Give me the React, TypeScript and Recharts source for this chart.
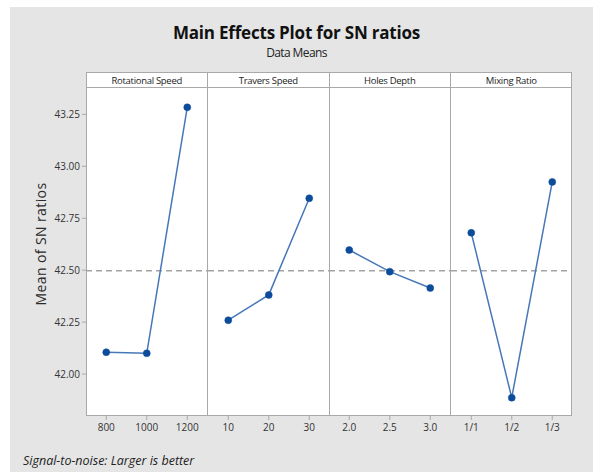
import React from 'react';
import { LineChart, Line, XAxis, YAxis, ReferenceLine } from 'recharts';

// Factor levels and mean S/N ratio (dB) at each level
const rotationalSpeedLevels = ['800', '1000', '1200'];
const rotationalSpeedSN = [42.105, 42.1, 43.284];

const traversSpeedLevels = ['10', '20', '30'];
const traversSpeedSN = [42.259, 42.381, 42.846];

const holesDepthLevels = ['2.0', '2.5', '3.0'];
const holesDepthSN = [42.597, 42.493, 42.414];

const mixingRatioLevels = ['1/1', '1/2', '1/3'];
const mixingRatioSN = [42.68, 41.886, 42.925];

const factorNames = ['Rotational Speed', 'Travers Speed', 'Holes Depth', 'Mixing Ratio'];
const yTicks = [42.0, 42.25, 42.5, 42.75, 43.0, 43.25];
const grandMean = 42.497;

const factors = [
  { name: factorNames[0], levels: rotationalSpeedLevels, values: rotationalSpeedSN },
  { name: factorNames[1], levels: traversSpeedLevels, values: traversSpeedSN },
  { name: factorNames[2], levels: holesDepthLevels, values: holesDepthSN },
  { name: factorNames[3], levels: mixingRatioLevels, values: mixingRatioSN },
];

const FONT = '"Open Sans", "Noto Sans", sans-serif';
const BG = '#e5e5e5';
const FRAME = '#a9a9a9';
const LINE = '#4677b8';
const DOT = '#0d4c9b';

const PLOT_LEFT = 86;
const PLOT_TOP = 88;
const STRIP_TOP = 72;
const PLOT_BOTTOM = 416;
const PANEL_W = 121.5;
const Y_AXIS_W = 50;
const X_AXIS_H = 30;
const Y_DOMAIN: [number, number] = [41.798, 43.377];

function Panel({ index }: { index: number }) {
  const f = factors[index];
  const data = f.levels.map((lv, i) => ({ level: lv, sn: f.values[i] }));
  const first = index === 0;
  const width = PANEL_W + (first ? Y_AXIS_W : 0);
  const left = PLOT_LEFT + index * PANEL_W - (first ? Y_AXIS_W : 0);
  const height = PLOT_BOTTOM - PLOT_TOP + X_AXIS_H;
  const pad = PANEL_W / 6;
  return (
    <div style={{ position: 'absolute', left, top: PLOT_TOP }}>
      <LineChart width={width} height={height} data={data} margin={{ top: 0, right: 0, bottom: 0, left: 0 }}>
        <XAxis
          dataKey="level"
          type="category"
          padding={{ left: pad, right: pad }}
          height={X_AXIS_H}
          axisLine={false}
          tickLine={{ stroke: FRAME }}
          tickSize={4}
          tickMargin={4}
          tick={{ fill: '#333', fontSize: 10, fontFamily: FONT }}
          interval={0}
        />
        <YAxis
          hide={!first}
          width={first ? Y_AXIS_W : 0}
          type="number"
          domain={Y_DOMAIN}
          allowDataOverflow
          ticks={yTicks}
          tickFormatter={(v: number) => v.toFixed(2)}
          axisLine={false}
          tickLine={{ stroke: FRAME }}
          tickSize={4}
          tickMargin={2}
          tick={{ fill: '#333', fontSize: 10, fontFamily: FONT }}
        />
        <ReferenceLine y={grandMean} stroke="#a3a3a3" strokeWidth={1.5} strokeDasharray="6 4" />
        <Line
          dataKey="sn"
          type="linear"
          stroke={LINE}
          strokeWidth={1.5}
          dot={{ r: 3.5, fill: DOT, stroke: DOT, strokeWidth: 0.5 }}
          isAnimationActive={false}
        />
      </LineChart>
    </div>
  );
}

export default function App() {
  const plotRight = PLOT_LEFT + 4 * PANEL_W;
  return (
    <div style={{ position: 'absolute', left: 0, top: 0, width: 593, height: 472, background: '#fff', overflow: 'hidden', fontFamily: FONT }}>
      <div style={{ position: 'absolute', left: 10, top: 7, width: 583, height: 465, background: BG }} />
      <div style={{ position: 'absolute', left: 0, top: 21, width: 593, textAlign: 'center', fontSize: 17, fontWeight: 700, color: '#111', letterSpacing: -0.2 }}>
        Main Effects Plot for SN ratios
      </div>
      <div style={{ position: 'absolute', left: 0, top: 44, width: 593, textAlign: 'center', fontSize: 12, color: '#222', letterSpacing: -0.6 }}>
        Data Means
      </div>
      {/* panel frames and strip headers */}
      <div style={{ position: 'absolute', left: PLOT_LEFT, top: STRIP_TOP, width: plotRight - PLOT_LEFT, height: PLOT_BOTTOM - STRIP_TOP, background: '#fff', boxSizing: 'border-box', border: `1px solid ${FRAME}` }} />
      <div style={{ position: 'absolute', left: PLOT_LEFT, top: PLOT_TOP - 1, width: plotRight - PLOT_LEFT, height: 1, background: FRAME }} />
      {[1, 2, 3].map((i) => (
        <div key={i} style={{ position: 'absolute', left: PLOT_LEFT + i * PANEL_W - 0.5, top: STRIP_TOP, width: 1, height: PLOT_BOTTOM - STRIP_TOP, background: FRAME }} />
      ))}
      {factors.map((f, i) => (
        <div key={f.name} style={{ position: 'absolute', left: PLOT_LEFT + i * PANEL_W, top: STRIP_TOP + 1, width: PANEL_W, textAlign: 'center', fontSize: 9.5, color: '#222', letterSpacing: -0.3, lineHeight: '15px' }}>
          {f.name}
        </div>
      ))}
      {factors.map((_, i) => (
        <Panel key={i} index={i} />
      ))}
      <div style={{ position: 'absolute', left: 40, top: 244, transform: 'translate(-50%, -50%) rotate(-90deg)', whiteSpace: 'nowrap', fontSize: 14, color: '#2a2a2a', letterSpacing: 0.4 }}>
        Mean of SN ratios
      </div>
      <div style={{ position: 'absolute', left: 23, top: 452, fontSize: 12.5, fontStyle: 'italic', color: '#222', letterSpacing: 0 }}>
        Signal-to-noise: Larger is better
      </div>
    </div>
  );
}
